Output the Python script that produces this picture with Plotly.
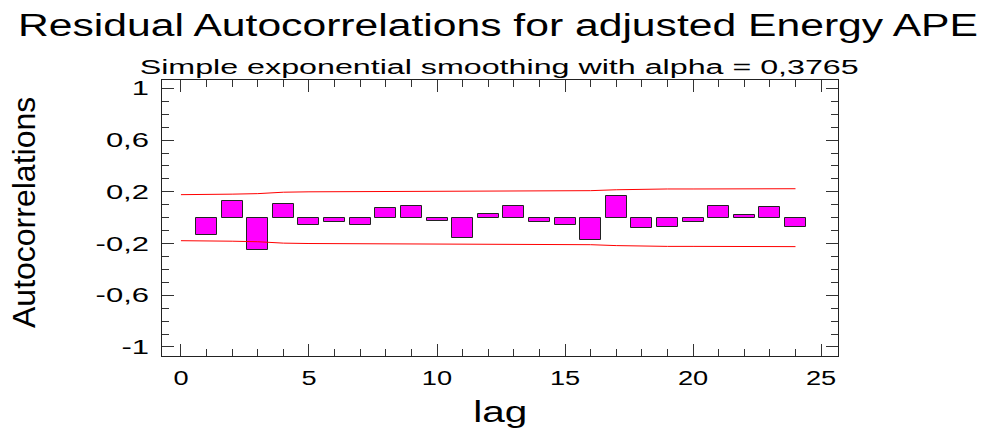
import plotly.graph_objects as go

# Residual autocorrelations by lag
lags = list(range(1, 25))
acf = [-0.132, 0.129, -0.250, 0.106, -0.057, -0.034, -0.054, 0.075,
       0.088, -0.026, -0.157, 0.031, 0.088, -0.034, -0.057, -0.175,
       0.168, -0.077, -0.072, -0.034, 0.088, 0.023, 0.083, -0.072]

# Probability limits drawn from lag 0 to lag 24
limit_lags = list(range(0, 25))
upper_limit = [0.178, 0.178, 0.182, 0.186, 0.197, 0.200, 0.201, 0.201,
               0.202, 0.203, 0.203, 0.203, 0.207, 0.207, 0.208, 0.208,
               0.209, 0.216, 0.221, 0.222, 0.222, 0.223, 0.223, 0.224, 0.224]
lower_limit = [-v for v in upper_limit]

y_ticks = [1, 0.6, 0.2, -0.2, -0.6, -1]
y_tick_text = ["1", "0,6", "0,2", "-0,2", "-0,6", "-1"]
x_ticks = [0, 5, 10, 15, 20, 25]

title_text = "Residual Autocorrelations for adjusted Energy APE"
subtitle_text = "Simple exponential smoothing with alpha = 0,3765"

FONT = "Liberation Sans, Arial, sans-serif"

fig = go.Figure()
fig.add_trace(go.Bar(
    x=lags, y=acf, width=0.82,
    marker=dict(color="#FF00FF", line=dict(color="#222222", width=1)),
    showlegend=False,
))
fig.add_trace(go.Scatter(
    x=limit_lags, y=upper_limit, mode="lines",
    line=dict(color="#FF0000", width=1), showlegend=False,
))
fig.add_trace(go.Scatter(
    x=limit_lags, y=lower_limit, mode="lines",
    line=dict(color="#FF0000", width=1), showlegend=False,
))

axis_common = dict(
    showline=True, linecolor="#222222", linewidth=1, mirror="ticks",
    ticks="inside", ticklen=12, tickwidth=1, tickcolor="#333333",
    showgrid=False, zeroline=False,
    tickfont=dict(family=FONT, size=20, color="#000000"),
)

fig.update_xaxes(
    range=[-0.74, 25.66], tickvals=x_ticks, ticklabelstandoff=4,
    minor=dict(ticks="inside", ticklen=7, dtick=1, tick0=0, tickcolor="#333333", showgrid=False),
    **axis_common,
)
fig.update_yaxes(
    range=[-1.07, 1.065], tickvals=y_ticks, ticktext=y_tick_text, ticklabelstandoff=8,
    minor=dict(ticks="inside", ticklen=7, dtick=0.1, tick0=0, tickcolor="#333333", showgrid=False),
    **axis_common,
)

fig.update_layout(
    width=994, height=434,
    margin=dict(l=162, r=156, t=80, b=78),
    paper_bgcolor="white", plot_bgcolor="white",
    bargap=0,
    annotations=[
        dict(text=title_text, xref="paper", yref="paper", x=0.5, y=1,
             xanchor="center", yanchor="middle", xshift=-2, yshift=55,
             showarrow=False, font=dict(family=FONT, size=31, color="#000000")),
        dict(text=subtitle_text, xref="paper", yref="paper", x=0.5, y=1,
             xanchor="center", yanchor="middle", xshift=-1, yshift=13,
             showarrow=False, font=dict(family=FONT, size=20, color="#000000")),
        dict(text="Autocorrelations", xref="paper", yref="paper", x=0, y=0.5,
             xanchor="center", yanchor="middle", xshift=-138, yshift=5, textangle=-90,
             showarrow=False, font=dict(family=FONT, size=32, color="#000000")),
        dict(text="lag", xref="paper", yref="paper", x=0.5, y=0,
             xanchor="center", yanchor="middle", yshift=-56,
             showarrow=False, font=dict(family=FONT, size=29, color="#000000")),
    ],
)

# Widen the horizontal text runs (wide Arial-style lettering)
widen_text = """
var gd = document.getElementById('{plot_id}');
function widen(el, factor, target) {
  if (!el) return;
  var w = el.getComputedTextLength();
  var len = target ? target : w * factor;
  el.setAttribute('lengthAdjust', 'spacingAndGlyphs');
  el.setAttribute('textLength', len.toFixed(1));
}
gd.querySelectorAll('.xtick text').forEach(function (t) { widen(t, 1.36); });
gd.querySelectorAll('.ytick text').forEach(function (t) { widen(t, 1.55); });
var ann = gd.querySelectorAll('.annotation');
widen(ann[0].querySelector('text'), 0, 960);
widen(ann[1].querySelector('text'), 0, 719);
widen(ann[3].querySelector('text'), 0, 54);
"""

fig.write_html("out.html", post_script=widen_text)
